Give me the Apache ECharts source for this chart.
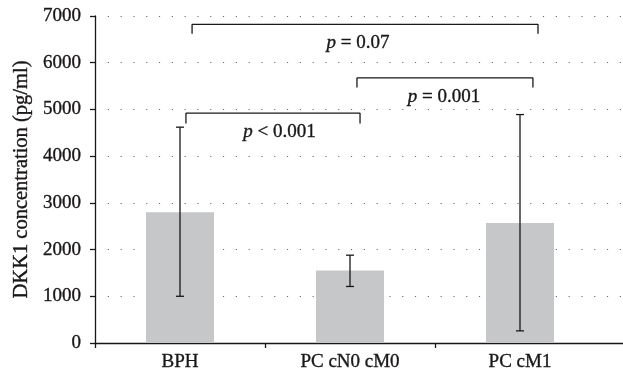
<!DOCTYPE html>
<html><head><meta charset="utf-8">
<script src="https://cdn.jsdelivr.net/npm/echarts@6/dist/echarts.min.js"></script>
<style>html,body{margin:0;padding:0;background:#fff}#c{width:623px;height:375px}</style>
</head><body><div id="c"></div>
<script>
var categories = ['BPH', 'PC cN0 cM0', 'PC cM1'];
var means = [2800, 1550, 2570];
var errLow = [1000, 1210, 260];
var errHigh = [4620, 1880, 4890];
var yTicks = [0, 1000, 2000, 3000, 4000, 5000, 6000, 7000];
var xBoundaryTicks = [0, 1, 2];
// comparison brackets: [xStart, xEnd] in category units, top value, leg bottom value
var bracketX = [[0.535, 1.559], [1.541, 2.576], [0.571, 2.606]];
var bracketTop = [4920, 5675, 6820];
var bracketLeg = [4700, 5470, 6620];
var bracketLabels = ['{i|p} < 0.001', '{i|p} = 0.001', '{i|p} = 0.07'];
var labelPos = [[1.085, 4520], [2.053, 5268], [1.547, 6418]];

var FONT = 'Liberation Serif';
var INK = '#1a1718';
var BOLD = { textBorderColor: INK, textBorderWidth: 0.35 };
function txt(o) { return Object.assign({}, BOLD, o); }
var chart = echarts.init(document.getElementById('c'));
var series = [];
series.push({
  type: 'bar', xAxisIndex: 1, yAxisIndex: 1, data: means, barWidth: '40%',
  itemStyle: { color: '#c6c7c8' }, silent: true, z: 2
});
series.push({
  type: 'custom', xAxisIndex: 1, yAxisIndex: 1, z: 5, silent: true,
  data: categories.map(function (c, i) { return [i, errLow[i], errHigh[i]]; }),
  renderItem: function (params, api) {
    var lo = api.coord([api.value(0), api.value(1)]);
    var hi = api.coord([api.value(0), api.value(2)]);
    var w = 4;
    var st = { stroke: INK, lineWidth: 1.3 };
    return { type: 'group', children: [
      { type: 'line', shape: { x1: lo[0], y1: lo[1], x2: hi[0], y2: hi[1] }, style: st },
      { type: 'line', shape: { x1: lo[0] - w, y1: lo[1], x2: lo[0] + w, y2: lo[1] }, style: st },
      { type: 'line', shape: { x1: hi[0] - w, y1: hi[1], x2: hi[0] + w, y2: hi[1] }, style: st }
    ]};
  }
});
bracketX.forEach(function (bx, k) {
  series.push({
    type: 'line', xAxisIndex: 0, yAxisIndex: 0, symbol: 'none', silent: true, z: 5,
    lineStyle: { color: INK, width: 1.3 },
    data: [[bx[0], bracketLeg[k]], [bx[0], bracketTop[k]], [bx[1], bracketTop[k]], [bx[1], bracketLeg[k]]]
  });
});
series.push({
  type: 'scatter', xAxisIndex: 0, yAxisIndex: 0, symbolSize: 1, silent: true, z: 6,
  itemStyle: { opacity: 0 },
  data: labelPos.map(function (p, k) { return { value: p, label: { formatter: bracketLabels[k] } }; }),
  label: txt({
    show: true, position: 'inside', color: INK, opacity: 1, fontFamily: FONT, fontSize: 19,
    rich: { i: txt({ fontFamily: FONT, fontSize: 19, fontStyle: 'italic', color: INK }) }
  })
});

chart.setOption({
  animation: false,
  grid: [
    { left: 95, right: 0, top: 16, bottom: 32 },
    { left: 95, right: 18, top: 16, bottom: 32 }
  ],
  xAxis: [
    { type: 'value', gridIndex: 0, min: 0, max: 528 / 170,
      axisLine: { show: true, lineStyle: { color: INK, width: 1.3 } },
      axisTick: { show: true, length: 5, customValues: xBoundaryTicks, lineStyle: { color: INK, width: 1.3 } },
      axisLabel: { show: false }, splitLine: { show: false } },
    { type: 'category', gridIndex: 1, data: categories,
      axisLine: { show: false }, axisTick: { show: false },
      axisLabel: txt({ color: INK, fontFamily: FONT, fontSize: 19, margin: 10 }) }
  ],
  yAxis: [
    { type: 'value', gridIndex: 0, min: 0, max: 7000, interval: 1000,
      name: 'DKK1 concentration (pg/ml)', nameLocation: 'middle', nameGap: 62,
      nameTextStyle: txt({ color: INK, fontFamily: FONT, fontSize: 20.5 }),
      axisLine: { show: true, lineStyle: { color: INK, width: 1.3 } },
      axisTick: { show: true, length: 5, lineStyle: { color: INK, width: 1.3 } },
      axisLabel: txt({ color: INK, fontFamily: FONT, fontSize: 19, margin: 14,
        formatter: function (v) { return yTicks.indexOf(v) >= 0 ? String(v) : ''; } }),
      splitLine: { show: true, lineStyle: { color: '#666', width: 1.1, type: [1.1, 11.7] } } },
    { type: 'value', gridIndex: 1, min: 0, max: 7000, show: false, splitLine: { show: false } }
  ],
  series: series
});
</script></body></html>
